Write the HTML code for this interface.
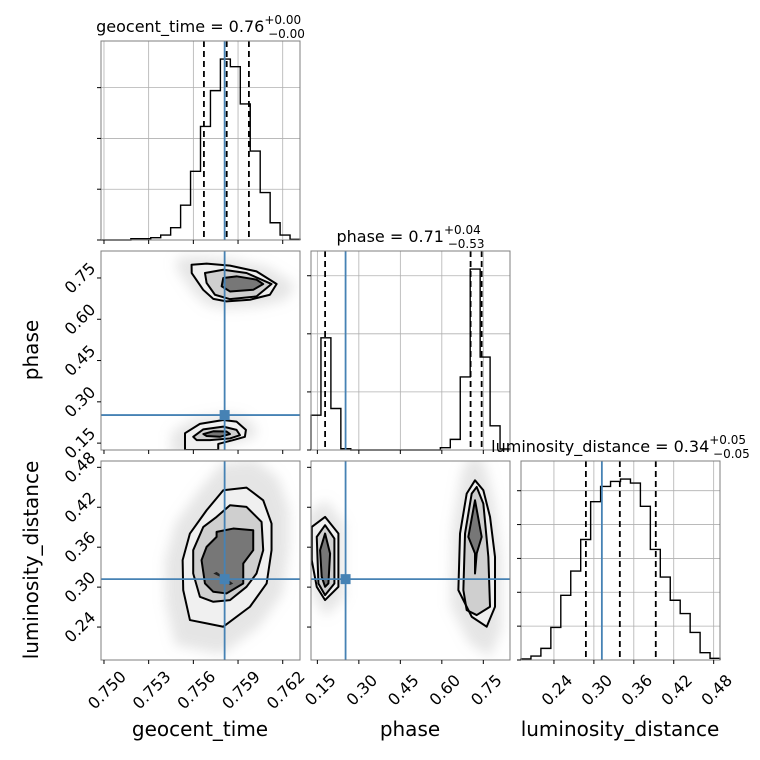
<!DOCTYPE html>
<html><head><meta charset="utf-8"><style>
html,body{margin:0;padding:0;background:#fff;}
svg{display:block;font-family:"DejaVu Sans","Liberation Sans",sans-serif;}
</style></head><body>
<svg id="fig" width="760" height="760" viewBox="0 0 760 760">
<defs>
<filter id="blur6" x="-50%" y="-50%" width="200%" height="200%"><feGaussianBlur stdDeviation="6"/></filter>
</defs>
</svg>
<script>
// ---- data ----
const geoCounts=[0,0,0,4,4,7,15,37,105,207,342,450,545,522,410,268,143,52,15,2];
const phaseCounts=[105,338,125,4,0,0,0,0,0,0,0,0,0,7,32,220,545,280,73,3];
const lumCounts=[3,12,35,98,195,268,363,477,523,538,545,533,463,333,250,180,140,83,22,5];
const geoQuant=[0.75671,0.75824,0.75973];
const phaseQuant=[0.178,0.704,0.744];
const lumQuant=[0.288,0.339,0.393];
const truthGeo=0.7581, truthPhase=0.252, truthLum=0.312;
const geoTicks=[0.750,0.753,0.756,0.759,0.762];
const geoTickLabels=["0.750","0.753","0.756","0.759","0.762"];
const phaseTicks=[0.15,0.30,0.45,0.60,0.75];
const phaseTickLabels=["0.15","0.30","0.45","0.60","0.75"];
const lumTicks=[0.24,0.30,0.36,0.42,0.48];
const lumTickLabels=["0.24","0.30","0.36","0.42","0.48"];
const geoHistTicks=[0,153,306,459];
const phaseHistTicks=[0,175,350,525];
const lumHistTicks=[0,102,204,306,408,510];
// contours [x,y] in data units
const gpUpOuter=[[0.75588,0.798],[0.75689,0.802],[0.75846,0.795],[0.76024,0.774],[0.76159,0.728],[0.76114,0.689],[0.7598,0.671],[0.75823,0.665],[0.75734,0.674],[0.75666,0.707],[0.75589,0.768]];
const gpUpMid=[[0.75678,0.768],[0.75801,0.780],[0.75957,0.768],[0.76125,0.728],[0.76024,0.683],[0.75846,0.673],[0.75745,0.689],[0.75689,0.732]];
const gpUpIn=[[0.75801,0.750],[0.7589,0.756],[0.76024,0.744],[0.76069,0.728],[0.76002,0.707],[0.75846,0.701],[0.7579,0.720]];
const gpLoOuter=[[0.75544,0.125],[0.75544,0.186],[0.75644,0.220],[0.75801,0.234],[0.7589,0.228],[0.75953,0.198],[0.75946,0.173],[0.75868,0.161],[0.75767,0.147],[0.75767,0.125]];
const gpLoMid=[[0.75599,0.173],[0.75667,0.200],[0.75801,0.210],[0.7589,0.198],[0.75913,0.179],[0.75846,0.167],[0.75711,0.161],[0.75622,0.161]];
const gpLoIn=[[0.75667,0.183],[0.75734,0.193],[0.75823,0.192],[0.75846,0.183],[0.75778,0.173],[0.75689,0.176]];
const glOuter=[[0.75577,0.2505],[0.75532,0.2955],[0.75528,0.3405],[0.75577,0.3805],[0.75689,0.4155],[0.75801,0.4455],[0.75957,0.4495],[0.76069,0.4305],[0.76125,0.3955],[0.76125,0.3555],[0.76092,0.3055],[0.7598,0.2705],[0.75801,0.2405],[0.75689,0.2455]];
const glMid=[[0.75644,0.2855],[0.75599,0.3205],[0.75599,0.3555],[0.75667,0.3905],[0.75756,0.4055],[0.75846,0.423],[0.75957,0.4205],[0.76058,0.398],[0.76069,0.3555],[0.76024,0.3205],[0.75957,0.3005],[0.75846,0.2805],[0.75734,0.278]];
const glIn=[[0.75678,0.3055],[0.75655,0.3405],[0.75689,0.3605],[0.75756,0.3755],[0.75756,0.383],[0.75868,0.388],[0.76002,0.3855],[0.76002,0.3555],[0.75935,0.3355],[0.75935,0.3055],[0.75823,0.2905],[0.75734,0.293]];
const glCore=[[0.75734,0.3205],[0.75756,0.3230],[0.75868,0.3055],[0.75846,0.3030],[0.75778,0.3155]];
const plLOuter=[[0.1297,0.3905],[0.1779,0.4055],[0.2261,0.3805],[0.2261,0.3005],[0.1779,0.2805],[0.1478,0.3005],[0.1297,0.3405]];
const plLMid=[[0.1478,0.3755],[0.1779,0.393],[0.2116,0.373],[0.2116,0.3055],[0.1779,0.288],[0.1538,0.3055]];
const plLIn=[[0.1598,0.3555],[0.1779,0.3805],[0.196,0.3505],[0.1899,0.3055],[0.1779,0.3005],[0.1658,0.3155]];
const plROuter=[[0.6598,0.2955],[0.6658,0.3805],[0.6899,0.4405],[0.72,0.4605],[0.7501,0.4455],[0.7743,0.4055],[0.7923,0.3455],[0.7923,0.2705],[0.7622,0.2405],[0.708,0.2555]];
const plRMid=[[0.6779,0.2955],[0.6839,0.3805],[0.708,0.4405],[0.7261,0.4505],[0.7501,0.4255],[0.7682,0.3455],[0.7743,0.2705],[0.7261,0.258],[0.6899,0.2655]];
const plRIn=[[0.6959,0.3755],[0.72,0.4305],[0.7441,0.3755],[0.7261,0.3505],[0.72,0.3205],[0.72,0.3505]];

// ---- axes ----
const P=199, colX=[101,311,521], rowY=[41,251,461];
const gx=v=>101+(v-0.7498)/(0.76316-0.7498)*P;
const pxX=v=>311+(v-0.127)/(0.8465-0.127)*P;
const pyY=v=>450-(v-0.125)/(0.848-0.125)*P;
const lxX=v=>521+(v-0.1905)/0.299*P;
const lyY=v=>660-(v-0.1905)/0.299*P;
const svg=document.getElementById('fig');
const NS='http://www.w3.org/2000/svg';
function mk(tag,attrs,parent){const e=document.createElementNS(NS,tag);for(const k in attrs)e.setAttribute(k,attrs[k]);(parent||svg).appendChild(e);return e;}
const BLUE='#4682b4', SP='#7f7f7f', GR='#b0b0b0';

function grp(name){const g=mk('g',{});


return g;}

function spine(c,r,g){mk('rect',{x:colX[c],y:rowY[r],width:P,height:P,fill:'none',stroke:SP,'stroke-width':1},g);}
function xticks(c,r,ticks,sx,g){ticks.forEach(t=>{const x=sx(t);mk('line',{x1:x,x2:x,y1:rowY[r]+P,y2:rowY[r]+P+4,stroke:'#000','stroke-width':1},g);});}
function yticks(c,r,ticks,sy,g){ticks.forEach(t=>{const y=sy(t);mk('line',{x1:colX[c]-4,x2:colX[c],y1:y,y2:y,stroke:'#000','stroke-width':1},g);});}

function hist(c,r,counts,sx,lo,hi,quant,truth,xt,ht,name,title){
 const g=grp(name);const x0=colX[c],y0=rowY[r];
 const max=Math.max(...counts)*1.1;const sy=v=>y0+P-v/max*P;
 xt.forEach(t=>{const x=sx(t);mk('line',{x1:x,x2:x,y1:y0,y2:y0+P,stroke:GR,'stroke-width':0.8},g);});
 ht.forEach(t=>{const y=sy(t);mk('line',{x1:x0,x2:x0+P,y1:y,y2:y,stroke:GR,'stroke-width':0.8},g);});
 const w=(hi-lo)/counts.length;let d='M'+sx(lo)+','+sy(0);
 counts.forEach((v,i)=>{d+=' L'+sx(lo+i*w)+','+sy(v)+' L'+sx(lo+(i+1)*w)+','+sy(v);});
 d+=' L'+sx(hi)+','+sy(0);
 const p=mk('path',{d:d,fill:'none',stroke:'#000','stroke-width':1.4},g);
 
 
 quant.forEach(q=>{const l=mk('line',{x1:sx(q),x2:sx(q),y1:y0,y2:y0+P,stroke:'#000','stroke-width':1.8,'stroke-dasharray':'6,4'},g);
  
  });
 const tl=mk('line',{x1:sx(truth),x2:sx(truth),y1:y0,y2:y0+P,stroke:BLUE,'stroke-width':1.8},g);
 
 
 spine(c,r,g);xticks(c,r,xt,sx,g);yticks(c,r,ht,sy,g);
 const t=mk('text',{x:x0+P/2+title[3],y:y0-9,'text-anchor':'middle','font-size':16,fill:'#000'},g);
 
 
 t.innerHTML=title[0]+'<tspan font-size="12" dy="-8">'+title[1]+'</tspan><tspan font-size="12" dx="-33" dy="14">'+title[2]+'</tspan>';
}
function poly(pts,sx,sy,fill,g,name,stroke){const d=pts.map((p,i)=>(i?'L':'M')+sx(p[0])+','+sy(p[1])).join(' ')+' Z';
 const e=mk('path',{d:d,fill:fill,stroke:stroke?'#000':'none','stroke-width':stroke?2:0,'stroke-linejoin':'round'},g);
 
 
 return e;}
function cloud(pts,sx,sy,g,scale){const cx=pts.reduce((a,p)=>a+sx(p[0]),0)/pts.length,cy=pts.reduce((a,p)=>a+sy(p[1]),0)/pts.length;
 const d=pts.map((p,i)=>{const x=cx+(sx(p[0])-cx)*scale,y=cy+(sy(p[1])-cy)*scale;return (i?'L':'M')+x+','+y;}).join(' ')+' Z';
 const e=mk('path',{d:d,fill:'#aaa','fill-opacity':0.3,filter:'url(#blur6)'},g);
 
 }
function blob(sets,sx,sy,g){const [o,m,i,core]=sets;cloud(o,sx,sy,g,1.4);
 poly(o,sx,sy,'#f0f0f0',g,'contour-outer',false);poly(m,sx,sy,'#cfcfcf',g,'density-mid',false);
 poly(i,sx,sy,'#777',g,'density-inner',false);
 if(core)poly(core,sx,sy,'#222',g,'density-core',false);
 poly(o,sx,sy,'none',g,'contour-outer',true);poly(m,sx,sy,'none',g,'contour-mid',true);poly(i,sx,sy,'none',g,'contour-inner',true);}
function truthCross(c,r,sx,sy,tx,ty,g){const x=sx(tx),y=sy(ty);
 mk('line',{x1:x,x2:x,y1:rowY[r],y2:rowY[r]+P,stroke:BLUE,'stroke-width':1.8},g);
 mk('line',{x1:colX[c],x2:colX[c]+P,y1:y,y2:y,stroke:BLUE,'stroke-width':1.8},g);
 const s=mk('rect',{x:x-5,y:y-5,width:10,height:10,fill:BLUE},g);
 
 }
function clip(c,r,id){const cp=mk('clipPath',{id:id});mk('rect',{x:colX[c],y:rowY[r],width:P,height:P},cp);}

hist(0,0,geoCounts,gx,0.7498,0.76316,geoQuant,truthGeo,geoTicks,geoHistTicks,'geocent-time-histogram',['geocent_time = 0.76','+0.00','−0.00',0]);
hist(1,1,phaseCounts,pxX,0.127,0.8465,phaseQuant,truthPhase,phaseTicks,phaseHistTicks,'phase-histogram',['phase = 0.71','+0.04','−0.53',0]);
hist(2,2,lumCounts,lxX,0.1905,0.4895,lumQuant,truthLum,lumTicks,lumHistTicks,'luminosity-distance-histogram',['luminosity_distance = 0.34','+0.05','−0.05',0]);

clip(0,1,'c01');clip(0,2,'c02');clip(1,2,'c12');
let g=grp('geocent-vs-phase-panel');let gi=mk('g',{'clip-path':'url(#c01)'},g);
blob([gpUpOuter,gpUpMid,gpUpIn,null],gx,pyY,gi);blob([gpLoOuter,gpLoMid,gpLoIn,null],gx,pyY,gi);
truthCross(0,1,gx,pyY,truthGeo,truthPhase,gi);spine(0,1,g);xticks(0,1,geoTicks,gx,g);yticks(0,1,phaseTicks,pyY,g);
g=grp('geocent-vs-distance-panel');gi=mk('g',{'clip-path':'url(#c02)'},g);
blob([glOuter,glMid,glIn,glCore],gx,lyY,gi);
truthCross(0,2,gx,lyY,truthGeo,truthLum,gi);spine(0,2,g);xticks(0,2,geoTicks,gx,g);yticks(0,2,lumTicks,lyY,g);
g=grp('phase-vs-distance-panel');gi=mk('g',{'clip-path':'url(#c12)'},g);
blob([plLOuter,plLMid,plLIn,null],pxX,lyY,gi);blob([plROuter,plRMid,plRIn,null],pxX,lyY,gi);
truthCross(1,2,pxX,lyY,truthPhase,truthLum,gi);spine(1,2,g);xticks(1,2,phaseTicks,pxX,g);yticks(1,2,lumTicks,lyY,g);

function bottomLabels(ticks,labels,sx,name){const g=grp(name);ticks.forEach((t,i)=>{const x=sx(t)+3,y=690;
 const e=mk('text',{x:x,y:y,'text-anchor':'middle','dominant-baseline':'central','font-size':16,fill:'#000',transform:'rotate(-45 '+x+' '+y+')'},g);
 
 
 e.textContent=labels[i];});}
function leftLabels(ticks,labels,sy,name){const g=grp(name);ticks.forEach((t,i)=>{const x=80,y=sy(t);
 const e=mk('text',{x:x,y:y,'text-anchor':'middle','dominant-baseline':'central','font-size':16,fill:'#000',transform:'rotate(-45 '+x+' '+y+')'},g);
 
 
 e.textContent=labels[i];});}
bottomLabels(geoTicks,geoTickLabels,gx,'geocent-x-ticks');
bottomLabels(phaseTicks,phaseTickLabels,pxX,'phase-x-ticks');
bottomLabels(lumTicks,lumTickLabels,lxX,'distance-x-ticks');
leftLabels(phaseTicks,phaseTickLabels,pyY,'phase-y-ticks');
leftLabels(lumTicks,lumTickLabels,lyY,'distance-y-ticks');

function label(txt,x,y,rot,name){const e=mk('text',{x:x,y:y,'text-anchor':'middle','font-size':20,fill:'#000',transform:rot?'rotate(-90 '+x+' '+y+')':''});
 
 
 e.textContent=txt;}
label('geocent_time',200,736,false,'x-axis-title-geocent');
label('phase',410,736,false,'x-axis-title-phase');
label('luminosity_distance',620,736,false,'x-axis-title-distance');
label('phase',38,350,true,'y-axis-title-phase');
label('luminosity_distance',38,560,true,'y-axis-title-distance');
</script>
</body></html>
